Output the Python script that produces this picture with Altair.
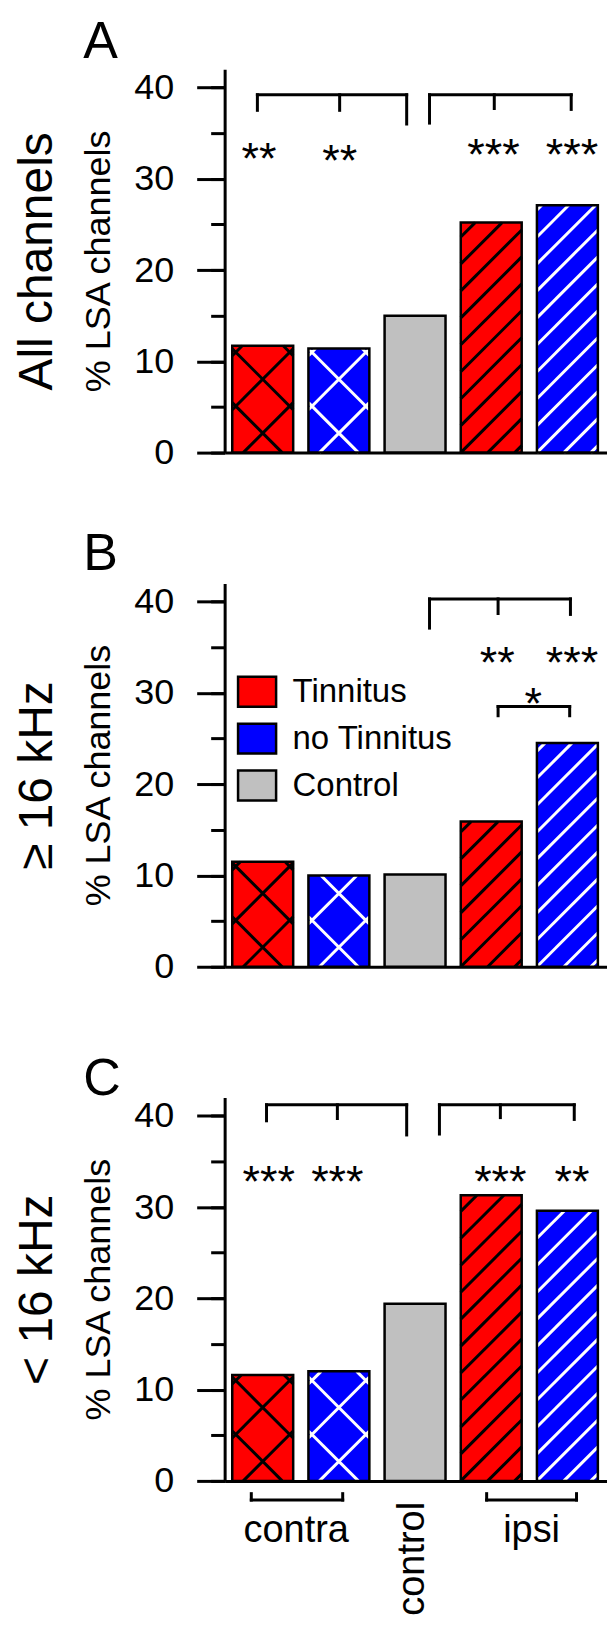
import math
import altair as alt
import pandas as pd

FONT = "Liberation Sans"

# ---------------- data ----------------
positions = [1, 2, 3, 4, 5]
groups = ["Tinnitus", "no Tinnitus", "Control", "Tinnitus", "no Tinnitus"]
patterns = ["cross", "cross", "none", "diag", "diag"]
hatch_colors = ["black", "white", "none", "black", "white"]
legend_names = ["Tinnitus", "no Tinnitus", "Control"]
legend_colors = ["#ff0000", "#0000ff", "#c0c0c0"]

letters = ["A", "B", "C"]
row_titles = ["All channels", "≥ 16 kHz", "< 16 kHz"]

values_A = [11.7, 11.4, 15.0, 25.2, 27.1]
values_B = [11.5, 10.0, 10.1, 15.9, 24.5]
values_C = [11.6, 12.0, 19.4, 31.3, 29.6]

# significance brackets: bars [x start, x end, y], legs [x, y bar, y end], stars [x, y, text]
bracket_bars_A = [[0.93, 2.89, 39.2], [3.19, 5.05, 39.2]]
bracket_legs_A = [[0.93, 39.2, 37.5], [2.01, 39.2, 37.5], [2.89, 39.2, 36.0],
                  [3.19, 39.2, 36.1], [4.04, 39.2, 37.7], [5.05, 39.2, 37.6]]
stars_A = [[0.95, 33.4, "**"], [2.01, 33.1, "**"], [4.03, 33.8, "***"], [5.06, 33.8, "***"]]

bracket_bars_B = [[3.19, 5.04, 40.3], [4.09, 5.03, 28.5]]
bracket_legs_B = [[3.19, 40.3, 37.1], [4.09, 40.3, 38.7], [5.04, 40.3, 38.6],
                  [4.09, 28.5, 27.5], [5.03, 28.5, 27.5]]
stars_B = [[4.08, 34.5, "**"], [5.06, 34.5, "***"], [4.55, 30.0, "*"]]

bracket_bars_C = [[1.05, 2.89, 41.2], [3.32, 5.09, 41.2]]
bracket_legs_C = [[1.05, 41.2, 39.45], [1.98, 41.2, 39.7], [2.89, 41.2, 37.9],
                  [3.32, 41.2, 38.0], [4.12, 41.2, 39.8], [5.09, 41.2, 39.6]]
stars_C = [[1.08, 33.9, "***"], [1.98, 33.9, "***"], [4.12, 33.9, "***"], [5.06, 33.9, "**"]]

# side groups under panel C
side_bars = [[0.85, 2.05, -2.1], [3.94, 5.12, -2.1]]
side_legs = [[0.85, -2.1, -1.4], [2.05, -2.1, -1.4], [3.94, -2.1, -1.4], [5.12, -2.1, -1.4]]
side_labels = [[1.44, -6.7, "contra"], [4.53, -6.7, "ipsi"]]
control_label = [[3.12, -2.3, "control"]]

# ---------------- layout / style ----------------
W_PX, H_PX = 383, 384
X_DOMAIN = [0.5, 5.52]
Y_DOMAIN = [0, 42]
BAR_HALF = 0.4
SX = W_PX / (X_DOMAIN[1] - X_DOMAIN[0])
SY = H_PX / (Y_DOMAIN[1] - Y_DOMAIN[0])
DIAG_GAP = 27.0
CROSS_GAP = 54.0
CROSS_Y0 = 19.5          # height (px) of the first crossing on the bar centre line
LETTER_Y = [-12, -14, -3]


def hatch_rows(values):
    rows = []
    for pos, val, pat, col in zip(positions, values, patterns, hatch_colors):
        if pat == "none":
            continue
        w = 2 * BAR_HALF * SX
        h = val * SY
        left = pos - BAR_HALF
        if pat == "diag":
            fams = [(1, DIAG_GAP, 0.0)]
        else:
            fams = [(1, CROSS_GAP, CROSS_Y0 - w / 2), (-1, CROSS_GAP, CROSS_Y0 + w / 2)]
        for sgn, gap, phase in fams:
            lo, hi = (-w, h) if sgn > 0 else (0.0, h + w)
            k = math.floor((lo - phase) / gap)
            while True:
                c = phase + k * gap
                k += 1
                if c >= hi:
                    break
                if c <= lo:
                    continue
                if sgn > 0:
                    xa, xb = max(0.0, -c), min(w, h - c)
                else:
                    xa, xb = max(0.0, c - h), min(w, c)
                if xb - xa < 0.5:
                    continue
                ya, yb = sgn * xa + c, sgn * xb + c
                rows.append(dict(hx1=left + xa / SX, hx2=left + xb / SX,
                                 hy1=ya / SY, hy2=yb / SY, hc=col))
    return pd.DataFrame(rows)


def make_panel(i, values, br_bars, br_legs, stars, legend=None, bottom=False):
    xs = alt.Scale(domain=X_DOMAIN, nice=False, zero=False)
    ys = alt.Scale(domain=Y_DOMAIN, nice=False, zero=False)
    bars = pd.DataFrame({"pos": positions, "group": groups, "value": values})
    bars["left"] = bars["pos"] - BAR_HALF
    bars["right"] = bars["pos"] + BAR_HALF

    x_axis = alt.Axis(orient="bottom", domain=True, domainColor="black", domainWidth=3,
                      ticks=False, labels=False, grid=False, title=None)
    letter_axis = alt.Axis(orient="top", domain=False, ticks=False, labels=False, grid=False,
                           title=letters[i], titleFont=FONT, titleFontSize=52,
                           titleFontWeight="normal", titleColor="black", titleX=-142,
                           titleY=LETTER_Y[i], titleAngle=0, titleAlign="left",
                           titleBaseline="alphabetic")
    main_axis = alt.Axis(orient="left", values=[0, 10, 20, 30, 40], tickSize=28, tickWidth=3,
                         tickColor="black", domain=True, domainColor="black", domainWidth=3,
                         labelFont=FONT, labelFontSize=36, labelColor="black", labelPadding=23,
                         grid=False, title="% LSA channels", titleFont=FONT, titleFontSize=36,
                         titleFontWeight="normal", titleColor="black", titleX=-115,
                         titleY=H_PX / 2, titleAngle=270, titleAlign="center",
                         titleBaseline="alphabetic")
    minor_axis = alt.Axis(orient="left", values=list(range(0, 41, 5)), tickSize=14, tickWidth=3,
                          tickColor="black", domain=False, labels=False, grid=False, title=None)
    row_axis = alt.Axis(orient="left", domain=False, ticks=False, labels=False, grid=False,
                        title=row_titles[i], titleFont=FONT, titleFontSize=48,
                        titleFontWeight="normal", titleColor="black", titleX=-173,
                        titleY=H_PX / 2, titleAngle=270, titleAlign="center",
                        titleBaseline="alphabetic")

    fill = alt.Chart(bars).mark_rect(strokeWidth=0).encode(
        x=alt.X("left:Q", scale=xs, axis=x_axis),
        x2="right:Q",
        y=alt.Y("value:Q", scale=ys, axis=main_axis),
        y2=alt.datum(0),
        fill=alt.Fill("group:N", scale=alt.Scale(domain=legend_names, range=legend_colors),
                      legend=legend),
    )
    hatch = alt.Chart(hatch_rows(values)).mark_rule(strokeWidth=3).encode(
        x=alt.X("hx1:Q", scale=xs, axis=None), x2="hx2:Q",
        y=alt.Y("hy1:Q", scale=ys, axis=minor_axis), y2="hy2:Q",
        stroke=alt.Stroke("hc:N", scale=None),
    )
    outline = alt.Chart(bars).mark_rect(filled=False, color="black", strokeWidth=2.5).encode(
        x=alt.X("left:Q", scale=xs, axis=letter_axis), x2="right:Q",
        y=alt.Y("value:Q", scale=ys, axis=row_axis), y2=alt.datum(0),
    )

    def rules(bar_list, leg_list):
        bb = pd.DataFrame(bar_list, columns=["x1", "x2", "y"])
        bl = pd.DataFrame(leg_list, columns=["x", "y1", "y2"])
        h = alt.Chart(bb).mark_rule(strokeWidth=3, color="black", strokeCap="square").encode(
            x=alt.X("x1:Q", scale=xs, axis=None), x2="x2:Q",
            y=alt.Y("y:Q", scale=ys, axis=None))
        v = alt.Chart(bl).mark_rule(strokeWidth=3, color="black", strokeCap="square").encode(
            x=alt.X("x:Q", scale=xs, axis=None),
            y=alt.Y("y1:Q", scale=ys, axis=None), y2="y2:Q")
        return [h, v]

    st = pd.DataFrame(stars, columns=["x", "y", "t"])
    star_text = alt.Chart(st).mark_text(font=FONT, fontSize=45, baseline="alphabetic", dy=26,
                                        color="black").encode(
        x=alt.X("x:Q", scale=xs, axis=None), y=alt.Y("y:Q", scale=ys, axis=None), text="t:N")

    layers = [fill, hatch, outline] + rules(br_bars, br_legs) + [star_text]

    if bottom:
        layers += rules(side_bars, side_legs)
        sl = pd.DataFrame(side_labels, columns=["x", "y", "t"])
        layers.append(alt.Chart(sl).mark_text(font=FONT, fontSize=38, baseline="alphabetic",
                                              color="black").encode(
            x=alt.X("x:Q", scale=xs, axis=None), y=alt.Y("y:Q", scale=ys, axis=None),
            text="t:N"))
        cl = pd.DataFrame(control_label, columns=["x", "y", "t"])
        layers.append(alt.Chart(cl).mark_text(font=FONT, fontSize=38, baseline="alphabetic",
                                              align="right", angle=270, color="black").encode(
            x=alt.X("x:Q", scale=xs, axis=None), y=alt.Y("y:Q", scale=ys, axis=None),
            text="t:N"))

    return alt.layer(*layers).resolve_axis(x="independent", y="independent").properties(
        width=W_PX, height=H_PX)


legend_B = alt.Legend(title=None, orient="none", legendX=16, legendY=92,
                      symbolType="M-1.27,-1H1.27V1H-1.27Z", symbolSize=900,
                      symbolStrokeColor="black", symbolStrokeWidth=2.5, symbolOpacity=1,
                      labelFont=FONT, labelFontSize=33, labelColor="black", labelLimit=400,
                      labelOffset=19, rowPadding=6, padding=0)

pA = make_panel(0, values_A, bracket_bars_A, bracket_legs_A, stars_A)
pB = make_panel(1, values_B, bracket_bars_B, bracket_legs_B, stars_B, legend=legend_B)
pC = make_panel(2, values_C, bracket_bars_C, bracket_legs_C, stars_C, bottom=True)

chart = alt.vconcat(pA, pB, pC, spacing=131, bounds="flush").resolve_scale(
    x="independent", y="independent", fill="independent"
).resolve_legend(fill="independent").properties(
    padding={"left": 6, "top": 6, "right": 0, "bottom": 0}
).configure_view(stroke=None)

chart.save("out.html", embed_options={"renderer": "svg", "actions": False})
